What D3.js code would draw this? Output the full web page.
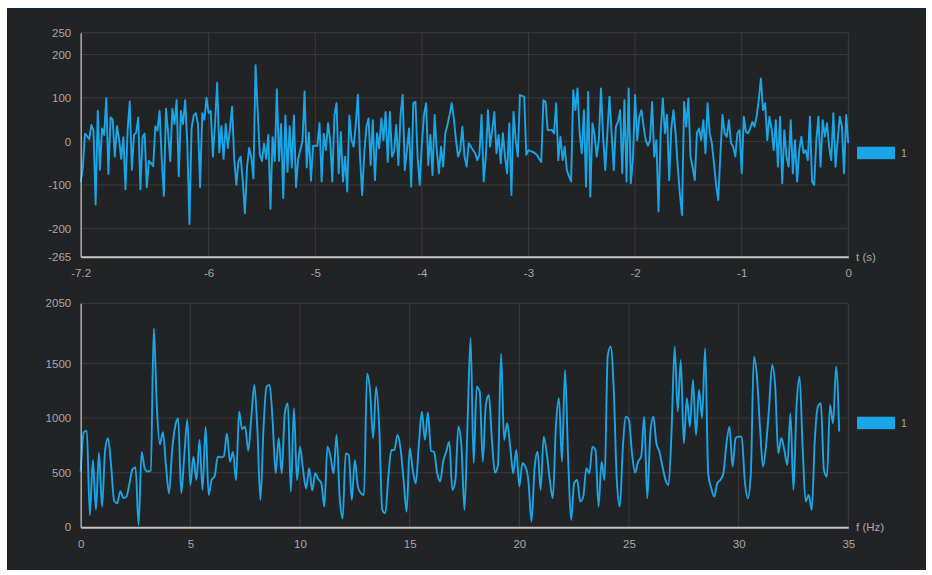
<!DOCTYPE html>
<html>
<head>
<meta charset="utf-8">
<script src="https://cdn.jsdelivr.net/npm/d3@7"></script>
<style>
  html, body { margin: 0; padding: 0; background: #ffffff; }
  svg { display: block; font-family: "Liberation Sans", Arial, sans-serif; }
</style>
</head>
<body>
<svg id="chart" width="932" height="575"></svg>
<script>
// Time-domain record: samples at a fixed rate ending at t = 0
const timeStart = -7.2;
const sampleRate = 50;
const signal = [
  -93, -60, 18, 12, 5, 38, 25, -145, 70, -65,      30, 15, 100, -75, 55, 50, -35, 35, 5, -40,
  10, -110, 25, 92, -65, 15, 20, 55, -110, 10,     18, -105, -45, -50, -57, 35, 25, 70, -40, -125,
  75, 20, -45, 75, 40, 95, -80, 70, 40, 95,        -5, -190, 30, 60, 65, 40, -105, 65, 50, 100,
  65, 70, -35, 40, 135, -25, 35, -40, 40, -15,     30, 80, -40, -100, -45, -35, -90, -165, -60, -15,
  -35, -85, 175, 70, -30, -45, -5, -40, 15, -155,  10, -45, 120, -45, 40, -130, 60, -70, 35, -60,
  60, -105, -40, -20, 0, 115, -60, 20, -90, -10,   -10, -10, 42, -92, 18, -20, 42, 3, -92, 61,
  88, -73, 22, -92, -35, -115, 60, 3, -12, 38,     107, -35, -123, -27, 34, 53, -54, 49, -89, 19,
  -16, 53, 3, 68, -47, 68, -35, -23, 38, -54,      61, 107, -66, -20, 30, -104, 88, 91, -35, -100,
  -5, 61, 88, -54, 15, -77, 61, -20, -73, -12,     -58, 19, 38, 61, 88, 53, 3, -35, -20, 34,
  -35, -58, -4, -12, -20, -27, -43, -30, 61, -92,  -35, 72, -12, 26, 68, -27, 15, -50, 19, -35,
  -73, 42, -123, 68, 3, -35, 107, 105, 103, -31,   -20, -22, -24, -27, -31, -40, -47, 95, 91, 26,
  26, 26, 19, 88, -43, 11, -43, -12, -66, -80,     -92, 118, 72, 122, 19, -27, 72, -104, 114, -127,
  42, 15, -35, 3, 122, 11, -66, 19, 103, 19,       -66, 34, 45, 72, -73, 95, -92, 122, -96, -40,
  107, 3, 57, 72, 34, 3, -10, 3, 91, -35,          3, -161, 19, 99, 19, 61, -89, 30, 72, 19,
  -58, -120, -169, 91, 34, 99, -35, -60, -89, 19,  30, 3, 49, -27, 88, 19, -4, -50, -100, -135,
  -31, 61, 19, 11, 49, -4, -12, -35, 19, 26,       -73, 57, 22, 19, 30, 45, 34, 57, 95, 145,
  72, 88, 3, 57, 30, -20, 49, -58, 57, -96,        26, -35, -58, 49, -73, 3, -92, -20, 11, -27,
  -20, -43, 57, -92, -100, 3, 57, -58, 49, 11,     42, -12, -43, 65, -58, 3, 57, 34, -73, 61, -4
];

// Magnitude spectrum: one bin every 35/252 Hz, starting at 0 Hz
const freqStep = 35 / 252;
const spectrum = [
  510, 870, 885, 113, 616, 160, 683, 190, 700, 815, 560, 240, 220, 330, 270, 280, 400, 530,
  550, 21, 690, 540, 510, 520, 1820, 1100, 760, 870, 560, 311, 700, 920, 997, 311, 650, 985,
  387, 647, 433, 799, 342, 921, 296, 433, 470, 647, 640, 650, 860, 600, 690, 430, 1059, 900,
  921, 700, 1000, 1303, 900, 250, 900, 1287, 1303, 980, 494, 815, 494, 1043, 1135, 326, 1089, 433,
  738, 525, 357, 540, 336, 494, 440, 403, 189, 738, 647, 494, 845, 281, 82, 677, 662, 250,
  616, 372, 311, 296, 1409, 1250, 815, 1287, 921, 159, 128, 464, 708, 708, 845, 723, 433, 143,
  723, 525, 403, 750, 1059, 800, 1050, 700, 690, 500, 420, 601, 692, 784, 342, 433, 921, 738,
  159, 952, 1730, 586, 1287, 1242, 601, 1120, 1211, 799, 500, 570, 1592, 799, 952, 738, 494, 708,
  372, 586, 555, 420, 52, 540, 692, 342, 830, 677, 433, 265, 921, 1181, 601, 1440, 647, 67,
  403, 433, 235, 281, 540, 494, 738, 708, 189, 601, 433, 1562, 1654, 1257, 433, 189, 738, 1013,
  982, 677, 500, 601, 647, 1013, 265, 860, 1013, 769, 692, 555, 433, 387, 900, 1654, 1059, 1531,
  769, 1181, 921, 1348, 845, 1257, 1000, 1638, 494, 357, 281, 403, 433, 494, 769, 921, 555, 815,
  830, 830, 433, 265, 494, 1562, 1379, 921, 555, 750, 1100, 1486, 1287, 677, 815, 708, 570, 1043,
  342, 1104, 1379, 738, 235, 296, 159, 799, 1104, 1135, 525, 464, 1120, 952, 1470, 876
];

const timeTicks = [-7.2, -6, -5, -4, -3, -2, -1, 0];
const ampTicks = [250, 200, 100, 0, -100, -200, -265];
const freqTicks = [0, 5, 10, 15, 20, 25, 30, 35];
const powerTicks = [0, 500, 1000, 1500, 2050];
const seriesName = "1";

const lineColor = "#1aa6e6";
const textColor = "#a8a8a8";
const gridColor = "#3a3b3e";
const axisColor = "#c4c4c4";

const svg = d3.select("#chart");

// dark card behind both plots
svg.append("rect").attr("x", 7).attr("y", 8).attr("width", 919).attr("height", 562)
  .attr("fill", "#222325");
svg.append("rect").attr("x", 7).attr("y", 8).attr("width", 919).attr("height", 2)
  .attr("fill", "#15273a");

// plain ASCII hyphen for negative tick values
const plain = d => String(d);

function drawPanel(opts) {
  const x = d3.scaleLinear().domain(opts.xDomain).range([80.7, 848.3]);
  const y = d3.scaleLinear().domain(opts.yDomain).range(opts.yRange);
  const g = svg.append("g");

  // grid
  g.append("g").selectAll("line").data(opts.yTicks).join("line")
    .attr("x1", x.range()[0]).attr("x2", x.range()[1])
    .attr("y1", d => y(d)).attr("y2", d => y(d))
    .attr("stroke", gridColor).attr("stroke-width", 1);
  g.append("g").selectAll("line").data(opts.xTicks).join("line")
    .attr("x1", d => x(d)).attr("x2", d => x(d))
    .attr("y1", y.range()[0]).attr("y2", y.range()[1])
    .attr("stroke", gridColor).attr("stroke-width", 1);

  // series line
  const line = d3.line().curve(opts.curve).x(d => x(d[0])).y(d => y(d[1]));
  g.append("path").datum(opts.points)
    .attr("d", line).attr("fill", "none")
    .attr("stroke", lineColor).attr("stroke-width", 1.9)
    .attr("stroke-linejoin", "round");

  // axes
  const xAxis = g.append("g").attr("transform", `translate(0,${y.range()[0]})`)
    .call(d3.axisBottom(x).tickValues(opts.xTicks).tickSize(0).tickPadding(12.5)
      .tickFormat(plain));
  xAxis.select(".domain").attr("stroke", axisColor).attr("stroke-width", 2);
  xAxis.selectAll("text").attr("fill", textColor).attr("font-size", 11.5);

  const yAxis = g.append("g").attr("transform", `translate(${x.range()[0]},0)`)
    .call(d3.axisLeft(y).tickValues(opts.yTicks).tickSize(0).tickPadding(9.5)
      .tickFormat(plain));
  yAxis.select(".domain").attr("stroke", axisColor).attr("stroke-width", 1.2);
  yAxis.selectAll("text").attr("fill", textColor).attr("font-size", 11.5);

  // axis title at the end of the x axis
  g.append("text").attr("x", 856).attr("y", y.range()[0] + 4)
    .attr("fill", textColor).attr("font-size", 11.5).text(opts.xLabel);

  // legend
  g.append("rect").attr("x", 857).attr("y", opts.legendY).attr("width", 38).attr("height", 12.5)
    .attr("fill", lineColor);
  g.append("text").attr("x", 901).attr("y", opts.legendY + 10)
    .attr("fill", textColor).attr("font-size", 10.5).text(seriesName);
}

drawPanel({
  xDomain: [-7.2, 0], yDomain: [-265, 250], yRange: [256.7, 32.7],
  xTicks: timeTicks, yTicks: ampTicks, xLabel: "t (s)", legendY: 146.7,
  curve: d3.curveLinear,
  points: signal.map((v, i) => [timeStart + i / sampleRate, v])
});

drawPanel({
  xDomain: [0, 35], yDomain: [0, 2050], yRange: [527.3, 303.3],
  xTicks: freqTicks, yTicks: powerTicks, xLabel: "f (Hz)", legendY: 416.7,
  curve: d3.curveMonotoneX,
  points: spectrum.map((v, i) => [i * freqStep, v])
});
</script>
</body>
</html>
